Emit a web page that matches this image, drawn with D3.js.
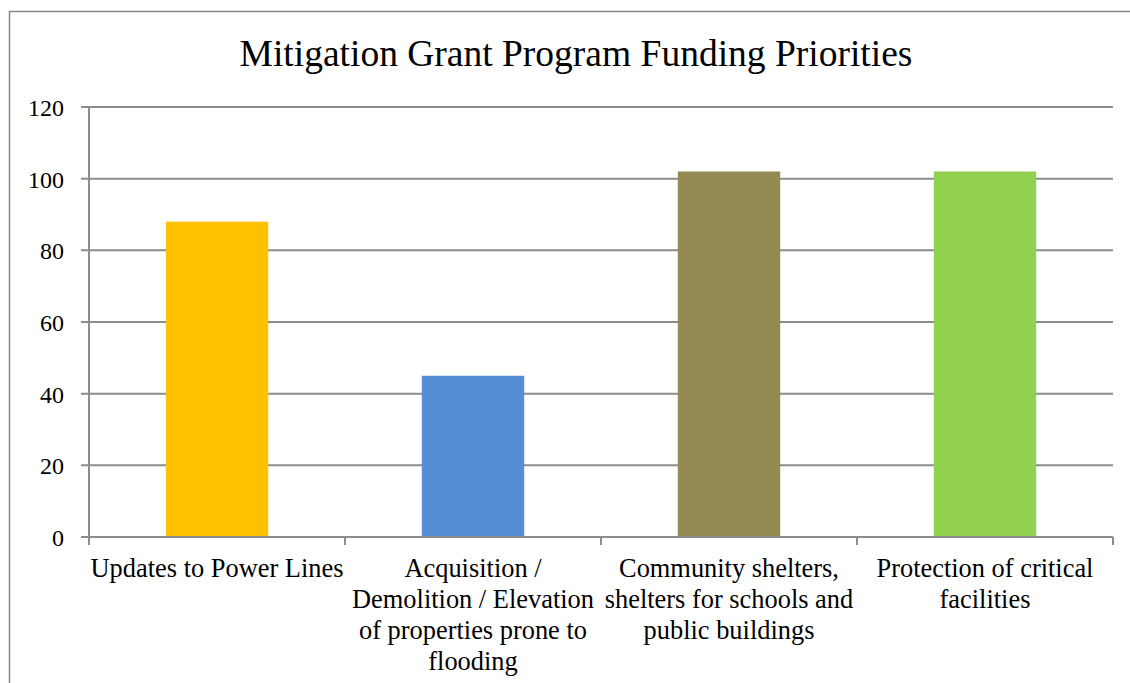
<!DOCTYPE html>
<html><head><meta charset="utf-8">
<script src="https://cdn.jsdelivr.net/npm/d3@7"></script>
<style>html,body{margin:0;padding:0;background:#fff;}svg{display:block;}</style>
</head><body>
<svg id="c" width="1130" height="683"></svg>
<script>
const title = "Mitigation Grant Program Funding Priorities";
const categories = [
  ["Updates to Power Lines"],
  ["Acquisition /", "Demolition / Elevation", "of properties prone to", "flooding"],
  ["Community shelters,", "shelters for schools and", "public buildings"],
  ["Protection of critical", "facilities"]
];
const values = [88, 45, 102, 102];
const colors = ["#FFC000", "#558ED5", "#948A54", "#92D050"];
const yTicks = [0, 20, 40, 60, 80, 100, 120];

(function () {
const svg = d3.select("#c");
const font = "'Liberation Serif'";
const gridColor = "#8c8c8c";

svg.append("rect").attr("x", 9.5).attr("y", 11.5).attr("width", 1300).attr("height", 800)
  .attr("fill", "none").attr("stroke", "#888").attr("stroke-width", 1.5);

svg.append("text").attr("x", 576).attr("y", 66).attr("text-anchor", "middle")
  .style("font-family", font).style("font-size", "37.5px").attr("fill", "#000").text(title);

const pL = 89, pR = 1113, pT = 107, pB = 537;
const x = d3.scaleBand().domain(d3.range(categories.length)).range([pL, pR]).paddingInner(0).paddingOuter(0);
const y = d3.scaleLinear().domain([0, 120]).range([pB, pT]);

svg.append("g").selectAll("line").data(yTicks).join("line")
  .attr("x1", pL - 8).attr("x2", pR)
  .attr("y1", d => y(d)).attr("y2", d => y(d))
  .attr("stroke", gridColor).attr("stroke-width", 2);

svg.append("g").selectAll("text").data(yTicks).join("text")
  .attr("x", 64).attr("y", d => y(d) + 9).attr("text-anchor", "end")
  .style("font-family", font).style("font-size", "24px").attr("fill", "#000").text(d => d);

svg.append("line").attr("x1", pL).attr("x2", pL).attr("y1", pT).attr("y2", pB + 6)
  .attr("stroke", gridColor).attr("stroke-width", 2);

const tickXs = d3.range(categories.length + 1).map(i => i < categories.length ? x(i) : x(categories.length - 1) + x.bandwidth());
svg.append("g").selectAll("line").data(tickXs).join("line")
  .attr("x1", d => d).attr("x2", d => d).attr("y1", pB).attr("y2", pB + 8)
  .attr("stroke", gridColor).attr("stroke-width", 2);

const bw = x.bandwidth() / 2.5;
svg.append("g").selectAll("rect").data(values).join("rect")
  .attr("x", (d, i) => x(i) + x.bandwidth() / 2 - bw / 2)
  .attr("width", bw)
  .attr("y", d => y(d))
  .attr("height", d => pB - y(d))
  .attr("fill", (d, i) => colors[i]);

svg.append("line").attr("x1", pL - 8).attr("x2", pR).attr("y1", pB).attr("y2", pB)
  .attr("stroke", gridColor).attr("stroke-width", 2);

const xl = svg.append("g");
categories.forEach((lines, i) => {
  const t = xl.append("text").attr("text-anchor", "middle")
    .style("font-family", font).style("font-size", "26.4px").attr("fill", "#000");
  lines.forEach((ln, j) => {
    t.append("tspan").attr("x", x(i) + x.bandwidth() / 2).attr("y", 577 + j * 31).text(ln);
  });
});
})();
</script>
</body></html>
